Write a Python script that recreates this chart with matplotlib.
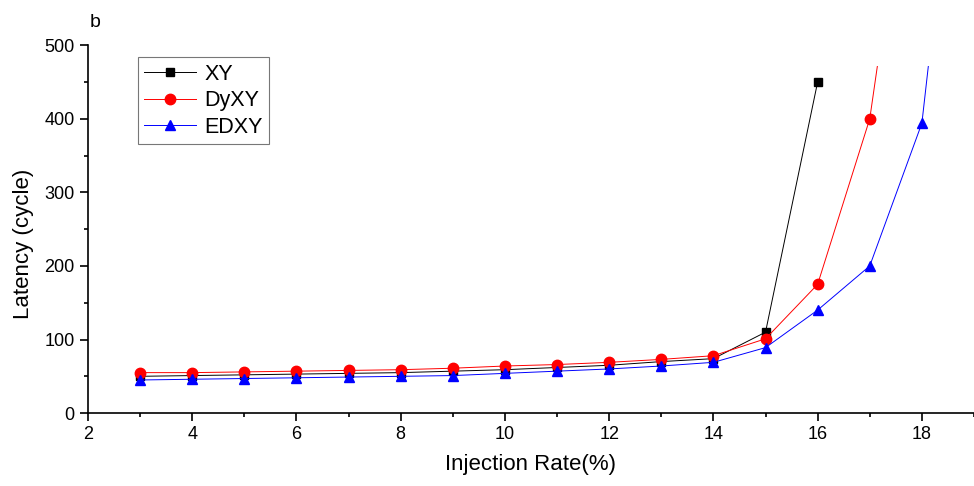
import matplotlib
matplotlib.use("Agg")
import matplotlib.pyplot as plt
from matplotlib.patches import Rectangle
from matplotlib.ticker import MultipleLocator

plt.rcParams["font.family"] = ["Liberation Sans", "DejaVu Sans"]

# injection rate (%) and latency (cycles) per routing algorithm
rate_xy = [3, 4, 5, 6, 7, 8, 9, 10, 11, 12, 13, 14, 15, 16]
lat_xy = [50, 51, 52, 53, 54, 55, 57, 59, 62, 65, 70, 74, 110, 450]

rate_dyxy = [3, 4, 5, 6, 7, 8, 9, 10, 11, 12, 13, 14, 15, 16, 17, 18]
lat_dyxy = [55, 55, 56, 57, 58, 59, 61, 64, 66, 69, 73, 78, 101, 175, 400, 890]

rate_edxy = [3, 4, 5, 6, 7, 8, 9, 10, 11, 12, 13, 14, 15, 16, 17, 18, 19]
lat_edxy = [45, 46, 47, 48, 49, 50, 51, 54, 57, 60, 64, 69, 89, 140, 200, 394, 1020]

fig = plt.figure(figsize=(9.74, 4.86), dpi=100)
ax = fig.add_axes([0.0903, 0.150, 0.9097, 0.757])

series = [
    (rate_xy, lat_xy, "black", "s", 6, "XY"),
    (rate_dyxy, lat_dyxy, "red", "o", 7.5, "DyXY"),
    (rate_edxy, lat_edxy, "blue", "^", 7.5, "EDXY"),
]
for x, y, c, m, ms, name in series:
    (ln,) = ax.plot(x, y, color=c, marker=m, markersize=ms, lw=0.7, label=name)
    # the curves stop a little below the top of the frame
    ln.set_clip_path(Rectangle((2, 0), 17, 472, transform=ax.transData))

ax.set_xlim(2, 19)
ax.set_ylim(0, 500)
ax.xaxis.set_major_locator(MultipleLocator(2))
ax.xaxis.set_minor_locator(MultipleLocator(1))
ax.yaxis.set_major_locator(MultipleLocator(100))
ax.yaxis.set_minor_locator(MultipleLocator(50))
ax.spines["top"].set_visible(False)
ax.spines["right"].set_visible(False)
ax.spines["left"].set_linewidth(1.2)
ax.spines["bottom"].set_linewidth(1.2)
ax.tick_params(which="both", direction="out", labelsize=13, width=1.2)
ax.tick_params(which="major", length=6)
ax.tick_params(which="minor", length=3)
ax.set_xlabel("Injection Rate(%)", fontsize=16, labelpad=8)
ax.set_ylabel("Latency (cycle)", fontsize=16, labelpad=8)
ax.yaxis.set_label_coords(-0.061, 0.46)

leg = ax.legend(loc="upper left", bbox_to_anchor=(0.056, 0.967), fontsize=15.5,
                fancybox=False, edgecolor="#555555", handlelength=2.4,
                borderpad=0.3, labelspacing=0.25, handletextpad=0.4,
                borderaxespad=0)
leg.get_frame().set_linewidth(0.8)

fig.text(0.092, 0.945, "b", fontsize=14)

fig.savefig("out.png", dpi=100)
